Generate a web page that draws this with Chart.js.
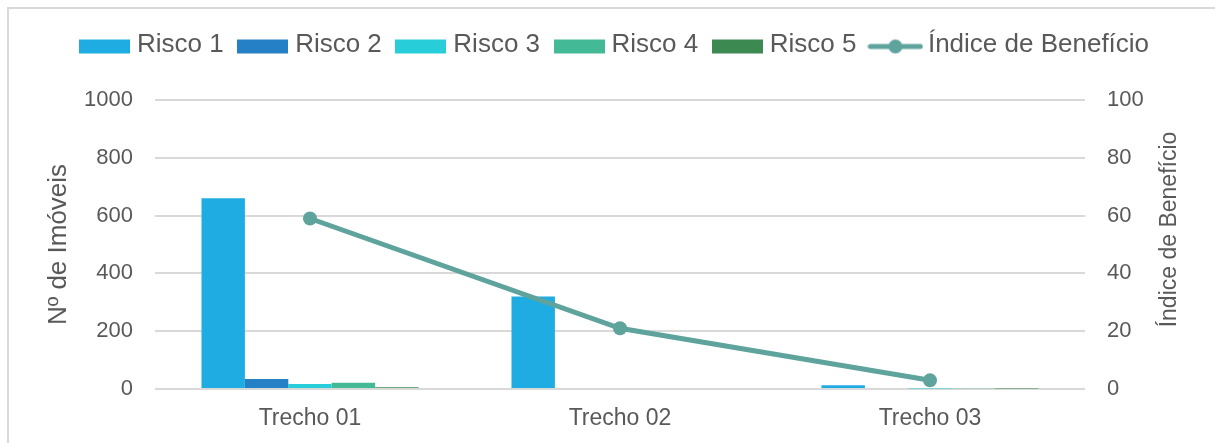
<!DOCTYPE html>
<html>
<head>
<meta charset="utf-8">
<script src="https://cdn.jsdelivr.net/npm/chart.js@4/dist/chart.umd.min.js"></script>
<style>
  html, body { margin: 0; padding: 0; background: #fff; }
  #wrap { position: relative; width: 1215px; height: 443px; overflow: hidden; }
  #frame { position: absolute; left: 7px; top: 7px; width: 1300px; height: 600px; border: 2px solid #d9d9d9; box-sizing: border-box; pointer-events: none; }
  canvas { position: absolute; left: 0; top: 0; }
</style>
</head>
<body>
<div id="wrap">
  <div id="frame"></div>
  <canvas id="c" width="1215" height="443"></canvas>
</div>
<script>
const categories = ['Trecho 01', 'Trecho 02', 'Trecho 03'];
const risco1 = [660, 320, 13];
const risco2 = [35, 0, 0];
const risco3 = [17, 0, 2];
const risco4 = [22, 0, 3];
const risco5 = [6, 0, 2];
const indiceBeneficio = [59, 21, 3];
const seriesNames = ['Risco 1', 'Risco 2', 'Risco 3', 'Risco 4', 'Risco 5', 'Índice de Benefício'];
const leftTitle = 'Nº de Imóveis';
const rightTitle = 'Índice de Benefício';

const colors = ['#1EACE2', '#2580C5', '#27CDD8', '#43BA95', '#3C8A52'];
const lineColor = '#5FA39D';
const textColor = '#595959';
const gridColor = '#d9d9d9';
const FONT = "'Liberation Sans', Arial, sans-serif";

function boxImg(color) {
  const c = document.createElement('canvas');
  c.width = 51; c.height = 19;
  const x = c.getContext('2d');
  x.fillStyle = color; x.fillRect(0, 4, 51, 14);
  return c;
}
function lineImg(color) {
  const c = document.createElement('canvas');
  c.width = 56; c.height = 19;
  const x = c.getContext('2d');
  x.strokeStyle = color; x.lineWidth = 5; x.lineCap = 'round';
  x.beginPath(); x.moveTo(3, 11); x.lineTo(53, 11); x.stroke();
  x.fillStyle = color; x.beginPath(); x.arc(28, 11, 7, 0, Math.PI * 2); x.fill();
  return c;
}

const barSets = [risco1, risco2, risco3, risco4, risco5].map((d, i) => ({
  type: 'bar',
  label: seriesNames[i],
  data: d,
  backgroundColor: colors[i],
  borderWidth: 0,
  yAxisID: 'y',
  order: 2,
  categoryPercentage: 0.7,
  barPercentage: 1.0
}));

const lineSet = {
  type: 'line',
  label: seriesNames[5],
  data: indiceBeneficio,
  borderColor: lineColor,
  backgroundColor: lineColor,
  borderWidth: 5,
  pointRadius: 7,
  pointBackgroundColor: lineColor,
  pointBorderWidth: 0,
  yAxisID: 'y1',
  order: 1,
  tension: 0
};

const fixSizes = {
  id: 'fixSizes',
  beforeLayout(chart) {
    const lg = chart.legend;
    if (lg && !lg._patched) {
      const orig = lg.fit.bind(lg);
      lg.fit = function () { orig(); this.height = 87.5; };
      lg._patched = true;
    }
  },
  afterDraw(chart) {
    const ctx = chart.ctx;
    const y1 = chart.scales.y1;
    ctx.save();
    ctx.fillStyle = textColor;
    ctx.font = '23px ' + FONT;
    ctx.textAlign = 'center';
    ctx.textBaseline = 'middle';
    ctx.translate(1170, (y1.top + y1.bottom) / 2 - 15);
    ctx.rotate(-Math.PI / 2);
    ctx.fillText(rightTitle, 0, 0);
    ctx.restore();
  }
};

const plainNum = v => String(v);

new Chart(document.getElementById('c'), {
  data: { labels: categories, datasets: [...barSets, lineSet] },
  options: {
    responsive: false,
    animation: false,
    devicePixelRatio: 1,
    layout: { padding: { left: 41, right: 22, top: 12.5, bottom: 0 } },
    plugins: {
      tooltip: { enabled: false },
      legend: {
        position: 'top',
        labels: {
          usePointStyle: true,
          pointStyleWidth: 39,
          boxHeight: 15,
          padding: 19.5,
          color: textColor,
          font: { size: 26, family: FONT },
          generateLabels(chart) {
            return chart.data.datasets.map((ds, i) => ({
              text: ds.label,
              pointStyle: i < 5 ? boxImg(colors[i]) : lineImg(lineColor),
              fillStyle: 'rgba(0,0,0,0)',
              strokeStyle: 'rgba(0,0,0,0)',
              lineWidth: 0,
              hidden: false,
              datasetIndex: i,
              fontColor: textColor
            }));
          }
        }
      }
    },
    scales: {
      x: {
        grid: { display: false, drawTicks: false },
        border: { display: false },
        ticks: { color: textColor, font: { size: 23, family: FONT }, padding: 16 },
        afterFit(s) { s.height = 54; }
      },
      y: {
        position: 'left',
        min: 0, max: 1000,
        ticks: { stepSize: 200, color: textColor, font: { size: 22, family: FONT }, padding: 22, callback: plainNum },
        grid: { color: gridColor, lineWidth: 2, drawTicks: false },
        border: { display: false },
        title: { display: true, text: leftTitle, color: textColor, font: { size: 26, family: FONT, lineHeight: 1.2 }, padding: { top: 2, bottom: 0 } },
        afterFit(s) { s.width = 155 - 41; }
      },
      y1: {
        position: 'right',
        min: 0, max: 100,
        ticks: { stepSize: 20, color: textColor, font: { size: 22, family: FONT }, padding: 22, callback: plainNum },
        grid: { display: false, drawTicks: false },
        border: { display: false },
        afterFit(s) { s.width = 1215 - 22 - 1085; }
      }
    }
  },
  plugins: [fixSizes]
});
</script>
</body>
</html>
